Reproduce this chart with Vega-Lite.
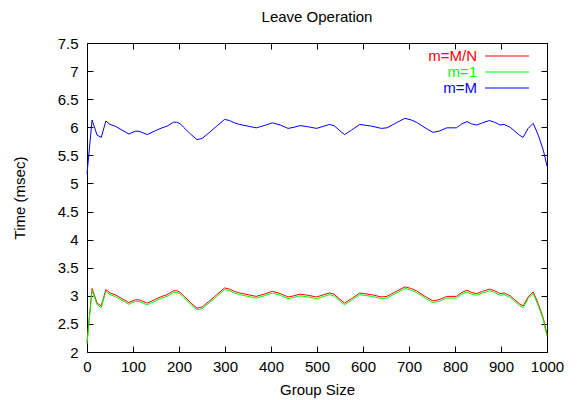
{
  "$schema": "https://vega.github.io/schema/vega-lite/v6.json",
  "width": 460,
  "height": 309,
  "autosize": {"type": "none"},
  "padding": {"left": 87, "top": 43, "right": 30, "bottom": 48},
  "background": "white",
  "title": {"text": "Leave Operation", "fontSize": 15, "font": "Liberation Sans", "fontWeight": "normal", "baseline": "alphabetic", "offset": -1, "anchor": "middle", "frame": "group", "color": "black"},
  "config": {
    "view": {"stroke": "black", "strokeWidth": 1},
    "axis": {"domain": false, "grid": false, "labelFlush": false, "tickColor": "black", "tickSize": -6, "tickWidth": 1, "labelFont": "Liberation Sans", "labelFontSize": 15, "labelColor": "black", "titleFont": "Liberation Sans", "titleFontSize": 15, "titleFontWeight": "normal", "titleColor": "black"}
  },
  "data": {"values": [
    {"g": 0, "MN": 2.18, "one": 2.15, "M": 5.17},
    {"g": 11, "MN": 3.13, "one": 3.10, "M": 6.13},
    {"g": 22, "MN": 2.87, "one": 2.84, "M": 5.86},
    {"g": 31, "MN": 2.82, "one": 2.79, "M": 5.82},
    {"g": 41, "MN": 3.11, "one": 3.08, "M": 6.11},
    {"g": 50, "MN": 3.05, "one": 3.02, "M": 6.05},
    {"g": 61, "MN": 3.02, "one": 2.99, "M": 6.02},
    {"g": 76, "MN": 2.95, "one": 2.92, "M": 5.95},
    {"g": 91, "MN": 2.88, "one": 2.85, "M": 5.88},
    {"g": 105, "MN": 2.93, "one": 2.90, "M": 5.93},
    {"g": 113, "MN": 2.93, "one": 2.90, "M": 5.93},
    {"g": 131, "MN": 2.87, "one": 2.84, "M": 5.87},
    {"g": 149, "MN": 2.94, "one": 2.91, "M": 5.94},
    {"g": 163, "MN": 2.99, "one": 2.96, "M": 5.99},
    {"g": 174, "MN": 3.02, "one": 2.99, "M": 6.02},
    {"g": 188, "MN": 3.09, "one": 3.06, "M": 6.09},
    {"g": 195, "MN": 3.09, "one": 3.06, "M": 6.09},
    {"g": 203, "MN": 3.06, "one": 3.03, "M": 6.06},
    {"g": 210, "MN": 3.00, "one": 2.97, "M": 6.00},
    {"g": 225, "MN": 2.88, "one": 2.85, "M": 5.88},
    {"g": 239, "MN": 2.78, "one": 2.75, "M": 5.78},
    {"g": 250, "MN": 2.80, "one": 2.77, "M": 5.80},
    {"g": 265, "MN": 2.90, "one": 2.87, "M": 5.90},
    {"g": 282, "MN": 3.02, "one": 2.99, "M": 6.02},
    {"g": 299, "MN": 3.14, "one": 3.11, "M": 6.14},
    {"g": 310, "MN": 3.12, "one": 3.09, "M": 6.12},
    {"g": 320, "MN": 3.08, "one": 3.05, "M": 6.08},
    {"g": 332, "MN": 3.05, "one": 3.02, "M": 6.05},
    {"g": 350, "MN": 3.02, "one": 2.99, "M": 6.02},
    {"g": 368, "MN": 2.99, "one": 2.96, "M": 5.99},
    {"g": 385, "MN": 3.03, "one": 3.00, "M": 6.03},
    {"g": 403, "MN": 3.08, "one": 3.05, "M": 6.08},
    {"g": 420, "MN": 3.04, "one": 3.01, "M": 6.04},
    {"g": 437, "MN": 2.98, "one": 2.95, "M": 5.98},
    {"g": 450, "MN": 3.00, "one": 2.97, "M": 6.00},
    {"g": 463, "MN": 3.03, "one": 3.00, "M": 6.03},
    {"g": 480, "MN": 3.01, "one": 2.98, "M": 6.01},
    {"g": 499, "MN": 2.98, "one": 2.95, "M": 5.98},
    {"g": 515, "MN": 3.02, "one": 2.99, "M": 6.02},
    {"g": 527, "MN": 3.05, "one": 3.02, "M": 6.05},
    {"g": 537, "MN": 3.03, "one": 3.00, "M": 6.03},
    {"g": 548, "MN": 2.95, "one": 2.92, "M": 5.95},
    {"g": 560, "MN": 2.87, "one": 2.84, "M": 5.87},
    {"g": 575, "MN": 2.95, "one": 2.92, "M": 5.95},
    {"g": 593, "MN": 3.05, "one": 3.02, "M": 6.05},
    {"g": 619, "MN": 3.02, "one": 2.99, "M": 6.02},
    {"g": 640, "MN": 2.98, "one": 2.95, "M": 5.98},
    {"g": 652, "MN": 2.99, "one": 2.96, "M": 5.99},
    {"g": 668, "MN": 3.06, "one": 3.03, "M": 6.06},
    {"g": 691, "MN": 3.16, "one": 3.13, "M": 6.16},
    {"g": 705, "MN": 3.13, "one": 3.10, "M": 6.13},
    {"g": 716, "MN": 3.09, "one": 3.06, "M": 6.09},
    {"g": 735, "MN": 2.99, "one": 2.96, "M": 5.99},
    {"g": 752, "MN": 2.91, "one": 2.88, "M": 5.91},
    {"g": 765, "MN": 2.93, "one": 2.90, "M": 5.93},
    {"g": 782, "MN": 2.99, "one": 2.96, "M": 5.99},
    {"g": 803, "MN": 2.99, "one": 2.96, "M": 5.99},
    {"g": 815, "MN": 3.06, "one": 3.03, "M": 6.06},
    {"g": 826, "MN": 3.10, "one": 3.07, "M": 6.10},
    {"g": 836, "MN": 3.06, "one": 3.03, "M": 6.06},
    {"g": 847, "MN": 3.04, "one": 3.01, "M": 6.04},
    {"g": 860, "MN": 3.08, "one": 3.05, "M": 6.08},
    {"g": 875, "MN": 3.12, "one": 3.09, "M": 6.12},
    {"g": 886, "MN": 3.09, "one": 3.06, "M": 6.09},
    {"g": 898, "MN": 3.04, "one": 3.01, "M": 6.04},
    {"g": 907, "MN": 3.05, "one": 3.02, "M": 6.05},
    {"g": 920, "MN": 3.00, "one": 2.97, "M": 6.00},
    {"g": 930, "MN": 2.93, "one": 2.90, "M": 5.93},
    {"g": 940, "MN": 2.86, "one": 2.83, "M": 5.86},
    {"g": 948, "MN": 2.82, "one": 2.79, "M": 5.82},
    {"g": 959, "MN": 2.98, "one": 2.95, "M": 5.98},
    {"g": 970, "MN": 3.07, "one": 3.04, "M": 6.07},
    {"g": 981, "MN": 2.86, "one": 2.83, "M": 5.86},
    {"g": 992, "MN": 2.60, "one": 2.57, "M": 5.59},
    {"g": 1000, "MN": 2.31, "one": 2.28, "M": 5.31}
  ]},
  "transform": [{"fold": ["MN", "one", "M"], "as": ["series", "t"]}],
  "layer": [
    {
      "mark": {"type": "line", "strokeWidth": 1, "interpolate": "linear"},
      "encoding": {
        "x": {"field": "g", "type": "quantitative", "scale": {"domain": [0, 1000], "nice": false},
              "axis": {"orient": "bottom", "title": "Group Size", "values": [0, 100, 200, 300, 400, 500, 600, 700, 800, 900, 1000], "format": "d", "labelPadding": 13.5, "titlePadding": 8}},
        "y": {"field": "t", "type": "quantitative", "scale": {"domain": [2, 7.5], "nice": false, "zero": false},
              "axis": {"orient": "left", "title": "Time (msec)", "values": [2, 2.5, 3, 3.5, 4, 4.5, 5, 5.5, 6, 6.5, 7, 7.5], "format": "~g", "labelPadding": 15, "titlePadding": 30}},
        "color": {"field": "series", "type": "nominal",
                  "scale": {"domain": ["MN", "one", "M"], "range": ["#ff0000", "#00ff00", "#0000ff"]},
                  "legend": {"orient": "none", "legendX": 412, "legendY": 5, "title": null, "symbolType": "M-3,0H3", "symbolSize": 215, "symbolStrokeWidth": 1, "symbolFillColor": "transparent", "labelAlign": "right", "labelOffset": -38, "labelFontSize": 15, "labelFont": "Liberation Sans", "rowPadding": -1.5, "padding": 0,
                             "labelExpr": "datum.value === 'MN' ? 'm=M/N' : datum.value === 'one' ? 'm=1' : 'm=M'",
                             "encode": {
                               "labels": {"update": {"fill": {"signal": "datum.value === 'MN' ? '#ff0000' : datum.value === 'one' ? '#00ff00' : '#0000ff'"}}},
                               "symbols": {"update": {"stroke": {"signal": "datum.value === 'MN' ? '#ff0000' : datum.value === 'one' ? '#00ff00' : '#0000ff'"}, "fill": {"value": "transparent"}, "strokeWidth": {"value": 1}}}
                             }}}
      }
    },
    {
      "mark": {"type": "point", "opacity": 0},
      "encoding": {
        "x": {"field": "g", "type": "quantitative", "axis": {"orient": "top", "title": null, "labels": false, "values": [0, 100, 200, 300, 400, 500, 600, 700, 800, 900, 1000]}},
        "y": {"field": "t", "type": "quantitative", "axis": {"orient": "right", "title": null, "labels": false, "values": [2, 2.5, 3, 3.5, 4, 4.5, 5, 5.5, 6, 6.5, 7, 7.5]}}
      }
    }
  ],
  "resolve": {"axis": {"x": "independent", "y": "independent"}}
}
